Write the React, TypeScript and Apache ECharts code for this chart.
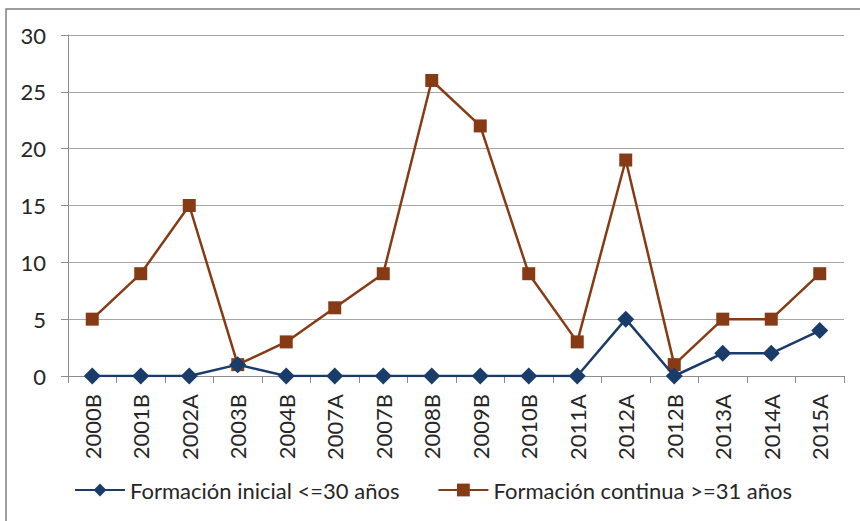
import React, { useEffect, useRef } from "react";
import * as echarts from "echarts";

const categories = ["2000B","2001B","2002A","2003B","2004B","2007A","2007B","2008B","2009B","2010B","2011A","2012A","2012B","2013A","2014A","2015A"];
const inicial = [0,0,0,1,0,0,0,0,0,0,0,5,0,2,2,4];
const continua = [5,9,15,1,3,6,9,26,22,9,3,19,1,5,5,9];
const seriesNames = ["Formación inicial <=30 años", "Formación continua >=31 años"];

export default function App() {
  const ref = useRef<HTMLDivElement>(null);
  useEffect(() => {
    document.body.style.margin = "0";
    const chart = echarts.init(ref.current!, null, { renderer: "svg" });
    const font = "Lato, 'Open Sans', sans-serif";
    chart.setOption({
      animation: false,
      backgroundColor: "#ffffff",
      graphic: [
        { type: "rect", shape: { x: 6, y: 9, width: 900, height: 600 }, style: { fill: "none", stroke: "#7f7f7f", lineWidth: 1.5 }, silent: true },
      ],
      grid: { left: 68, right: 16, top: 35, bottom: 145 },
      legend: {
        left: 69, top: 474, itemWidth: 50, itemHeight: 16, itemGap: 38,
        textStyle: { fontFamily: font, fontSize: 22, color: "#262626" },
        data: seriesNames,
      },
      xAxis: {
        type: "category", data: categories, boundaryGap: true,
        axisLine: { lineStyle: { color: "#8c8c8c", width: 1 } },
        axisTick: { show: true, length: 7, alignWithLabel: false, lineStyle: { color: "#8c8c8c" } },
        axisLabel: { rotate: 90, margin: 18, fontFamily: font, fontSize: 22, color: "#262626", interval: 0 },
      },
      yAxis: {
        type: "value", min: 0, max: 30, interval: 5,
        axisLine: { show: true, lineStyle: { color: "#8c8c8c", width: 1 } },
        axisTick: { show: true, length: 7, lineStyle: { color: "#8c8c8c" } },
        axisLabel: { margin: 22, fontFamily: font, fontSize: 22, color: "#262626" },
        splitLine: { lineStyle: { color: "#a6a6a6", width: 1 } },
      },
      series: [
        {
          name: seriesNames[0], type: "line", data: inicial,
          symbol: "diamond", symbolSize: 17,
          itemStyle: { color: "#1a3c6a" }, lineStyle: { color: "#1a3c6a", width: 2.5 },
          z: 3,
        },
        {
          name: seriesNames[1], type: "line", data: continua,
          symbol: "rect", symbolSize: 13,
          itemStyle: { color: "#873b15" }, lineStyle: { color: "#873b15", width: 2.5 },
          z: 2,
        },
      ],
    });
    return () => chart.dispose();
  }, []);
  return <div ref={ref} style={{ width: 860, height: 521 }} />;
}
